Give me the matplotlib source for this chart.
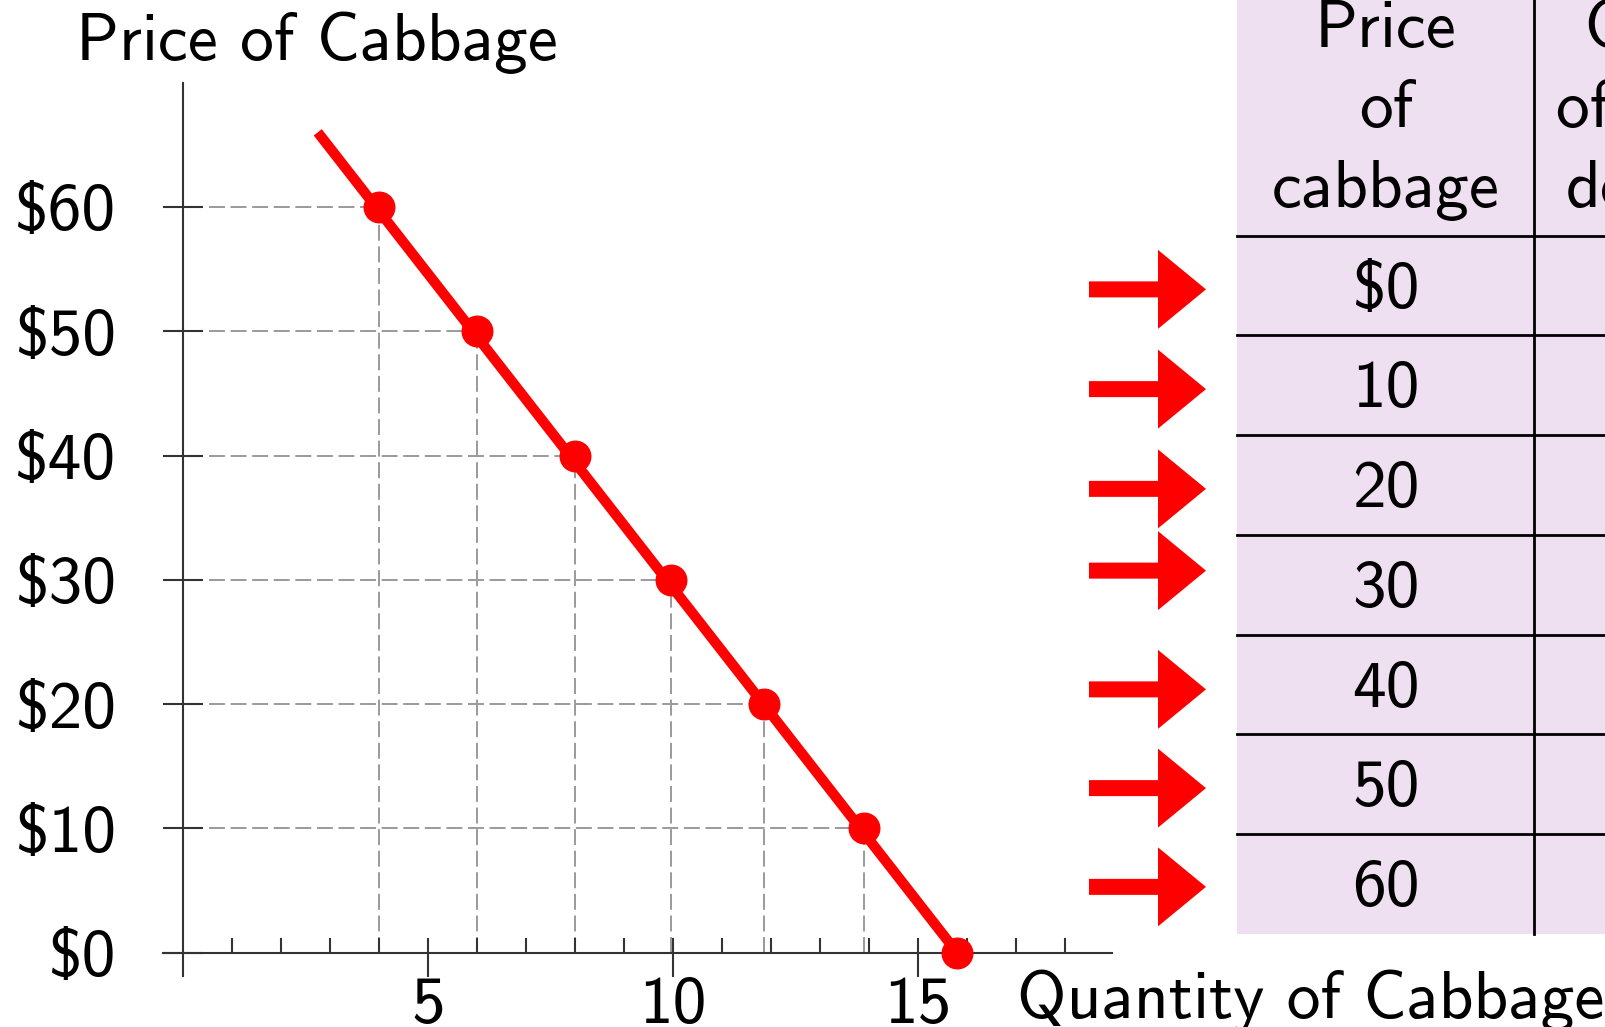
import numpy as np
import matplotlib
matplotlib.use("Agg")
from matplotlib import pyplot as plt
from matplotlib.patches import Rectangle, FancyArrow
from matplotlib.ticker import FixedLocator

# demand schedule
quantity = [4, 6, 8, 9.95, 11.85, 13.9, 15.8]
price = [60, 50, 40, 30, 20, 10, 0]
curve_q = [2.75, 15.8]
curve_p = [66, 0]

yticks = [0, 10, 20, 30, 40, 50, 60]
ytick_labels = ["$0", "$10", "$20", "$30", "$40", "$50", "$60"]
xticks_major = [5, 10, 15]
xticks_minor = list(range(1, 19))

table_prices = ["$0", "10", "20", "30", "40", "50", "60"]
head_price = ["Price", "of", "cabbage"]
head_qty = ["Quantity", "of cabbage", "demanded"]
arrow_nudge = [4, 4, 4, -14, 5, 4, 3]

FONT = "cmss10"
FS = 48.5
W, H = 1606, 1027

# pixel layout of the graph (origin and scale)
x0_px, y0_px = 183, 952.7
px_q, px_p = 49.0, 12.43

fig = plt.figure(figsize=(W / 100, H / 100), dpi=100)
ax = fig.add_axes([0, 0, 1, 1])
ax.set_xlim(-x0_px / px_q, (W - x0_px) / px_q)
ax.set_ylim(-(H - y0_px) / px_p, y0_px / px_p)
ax.patch.set_alpha(0)

for s in ("top", "right"):
    ax.spines[s].set_visible(False)
ax.spines["left"].set_position(("data", 0))
ax.spines["bottom"].set_position(("data", 0))
ax.spines["left"].set_bounds(-1.9, 70)
ax.spines["bottom"].set_bounds(-0.4, 18.95)
for s in ("left", "bottom"):
    ax.spines[s].set_color("#333333")
    ax.spines[s].set_linewidth(1.5)

ax.set_yticks(yticks)
ax.set_yticklabels(ytick_labels, fontfamily=FONT, fontsize=FS)
ax.tick_params(axis="y", direction="inout", length=29, width=1.5,
               color="#333333", pad=34)
ax.xaxis.set_major_locator(FixedLocator(xticks_major))
ax.xaxis.set_minor_locator(FixedLocator(xticks_minor))
ax.xaxis.remove_overlapping_locs = False
ax.set_xticklabels([str(v) for v in xticks_major], fontfamily=FONT, fontsize=FS)
ax.tick_params(axis="x", which="major", direction="out", length=17, width=1.5,
               color="#333333", pad=0)
ax.tick_params(axis="x", which="minor", direction="in", length=10.5, width=1.5,
               color="#333333")

# guide lines
q = np.array(quantity[:-1])
p = np.array(price[:-1])
guide = dict(colors="#9a9a9a", linewidth=1.4, linestyles=(0, (8.2, 2.9)), zorder=1)
ax.hlines(p, 0.53, q, **guide)
ax.vlines(q, 0, p, **guide)

ax.plot(curve_q, curve_p, color="#ff0000", linewidth=7.4,
        solid_capstyle="butt", zorder=3, clip_on=False)
ax.plot(quantity, price, "o", color="#ff0000", markersize=22,
        zorder=4, clip_on=False)

# overlay in pixel coordinates for the table and labels
ov = fig.add_axes([0, 0, 1, 1])
ov.set_xlim(0, W)
ov.set_ylim(H, 0)
ov.axis("off")
ov.patch.set_alpha(0)

ov.text(76, 60, "Price of Cabbage", fontfamily=FONT, fontsize=FS,
        ha="left", va="baseline")
ov.text(1017, 1018, "Quantity of Cabbage", fontfamily=FONT, fontsize=FS,
        ha="left", va="baseline")

tab_left, tab_bottom = 1237, 934
head_line = 235.5
row_h = 99.75
col_split = 1534
ov.add_patch(Rectangle((tab_left, -10), W - tab_left + 20, tab_bottom + 10,
                       facecolor="#eee0f0", edgecolor="none", zorder=0))
ov.plot([col_split, col_split], [-10, tab_bottom], color="black", lw=2)
for i in range(len(table_prices)):
    y = head_line + i * row_h
    ov.plot([tab_left, W + 5], [y, y], color="black", lw=2)

for k, (a, b) in enumerate(zip(head_price, head_qty)):
    yb = 46.7 + 80 * k
    ov.text(1386, yb, a, fontfamily=FONT, fontsize=FS, ha="center", va="baseline")
    ov.text(1708, yb, b, fontfamily=FONT, fontsize=FS, ha="center", va="baseline")

for i, lab in enumerate(table_prices):
    top = head_line + i * row_h
    ov.text(1386, top + 72, lab, fontfamily=FONT, fontsize=FS,
            ha="center", va="baseline")
    yc = top + row_h / 2 + arrow_nudge[i]
    ov.add_patch(FancyArrow(1089, yc, 117, 0, width=16, head_width=79,
                            head_length=48, length_includes_head=True,
                            color="#ff0000", lw=0))

fig.savefig("out.png", dpi=100)
